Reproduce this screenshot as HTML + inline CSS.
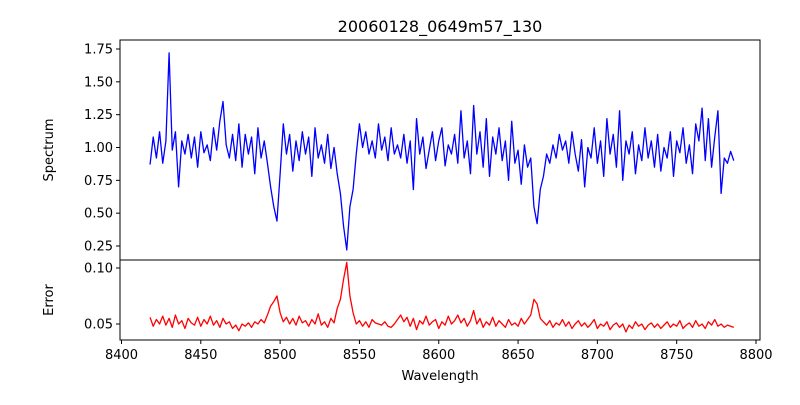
<!DOCTYPE html>
<html><head><meta charset="utf-8"><style>
body{margin:0;background:#fff;}
svg text{font-family:"DejaVu Sans","Liberation Sans",sans-serif;fill:#000;}
</style></head><body>
<svg id="chart" width="800" height="400" xmlns="http://www.w3.org/2000/svg">
<rect width="800" height="400" fill="#fff"/>
<text x="440" y="32" font-size="16" text-anchor="middle">20060128_0649m57_130</text>
<g id="g"></g>
<rect x="120" y="40" width="640" height="220" fill="none" stroke="#000" stroke-width="1"/>
<rect x="120" y="260" width="640" height="80" fill="none" stroke="#000" stroke-width="1"/>
<text x="53" y="150" font-size="13" text-anchor="middle" transform="rotate(-90 53 150)">Spectrum</text>
<text x="53" y="300" font-size="13" text-anchor="middle" transform="rotate(-90 53 300)">Error</text>
<text x="440" y="380" font-size="13" text-anchor="middle">Wavelength</text>
</svg>
<script>
const waveStart = 8418;
const waveStep = 2;
const flux = [
.87,1.08,.92,1.12,.88,1.05,1.72,.98,1.12,.70,
1.05,.95,1.10,.92,1.08,.85,1.12,.96,1.02,.90,
1.15,.98,1.20,1.35,1.02,.92,1.10,.90,1.18,.85,
1.10,.95,1.08,.80,1.15,.92,1.05,.88,.70,.55,
.44,.80,1.18,.95,1.10,.82,1.05,.90,1.12,.95,
1.08,.78,1.15,.92,1.02,.88,1.10,.84,1.00,.80,
.65,.40,.22,.55,.68,.95,1.18,1.00,1.12,.95,
1.05,.92,1.18,.98,1.08,.90,1.15,.95,1.02,.92,
1.10,.88,1.05,.68,1.22,.95,1.08,.84,.98,1.12,
.90,1.05,1.15,.86,1.02,.95,1.10,.88,1.28,.92,
1.05,.80,1.32,.95,1.12,.85,1.22,.78,1.08,.95,
1.15,.90,1.05,.75,1.20,.88,.98,.72,1.02,.85,
.92,.55,.42,.68,.78,.95,.88,1.02,.92,1.10,
.98,1.05,.88,1.12,.95,.82,1.06,.70,1.00,.92,
1.15,.88,1.05,.78,1.22,.95,1.10,.85,1.28,.75,
1.05,.95,1.12,.80,1.02,.90,1.15,.92,1.05,.85,
1.10,.82,1.00,.92,1.12,.78,1.05,.96,1.15,.88,
1.02,.80,1.18,1.05,1.30,.90,1.22,.85,1.08,1.28,
.65,.92,.88,.97,.90];
const err = [
.056,.048,.054,.050,.057,.049,.055,.047,.058,.050,
.053,.046,.055,.051,.049,.056,.048,.054,.050,.057,
.049,.053,.047,.055,.050,.052,.046,.049,.044,.050,
.048,.051,.047,.052,.050,.054,.051,.058,.066,.070,
.075,.060,.052,.056,.050,.055,.049,.057,.051,.053,
.048,.054,.050,.059,.049,.052,.047,.055,.051,.064,
.072,.090,.105,.075,.060,.050,.053,.048,.052,.047,
.054,.051,.050,.049,.052,.048,.047,.050,.054,.058,
.052,.056,.048,.055,.045,.053,.050,.057,.049,.052,
.054,.046,.052,.049,.057,.050,.053,.058,.051,.055,
.048,.053,.062,.050,.055,.047,.052,.049,.056,.048,
.053,.050,.047,.054,.049,.051,.048,.055,.050,.054,
.058,.072,.068,.055,.052,.049,.053,.047,.051,.049,
.054,.048,.052,.046,.050,.053,.048,.051,.047,.050,
.054,.046,.050,.048,.052,.045,.049,.051,.047,.050,
.043,.049,.046,.052,.048,.050,.045,.049,.051,.047,
.050,.046,.049,.052,.047,.050,.048,.053,.046,.049,
.051,.047,.053,.048,.050,.046,.052,.049,.054,.048,
.050,.047,.049,.048,.047];
const xTicks = [8400,8450,8500,8550,8600,8650,8700,8750,8800];
const fluxTicks = [0.25,0.50,0.75,1.00,1.25,1.50,1.75];
const errTicks = [0.05,0.10];

const NS = "http://www.w3.org/2000/svg";
const g = document.getElementById('g');
const xs = w => 121.5 + (w - 8400) * (756 - 121.5) / 400;
const yf = v => 49 + (1.75 - v) * (246 - 49) / 1.5;
const ye = v => 324 - (v - 0.05) * (324 - 268) / 0.05;
function mk(tag, attrs){const e=document.createElementNS(NS,tag);for(const k in attrs)e.setAttribute(k,attrs[k]);g.appendChild(e);return e;}

let d = flux.map((v,i)=>(i?'L':'M')+xs(waveStart+i*waveStep).toFixed(2)+','+yf(v).toFixed(2)).join('');
const p1 = mk('path',{d:d,fill:'none',stroke:'#0000ff','stroke-width':1.3,'stroke-linejoin':'round'});


d = err.map((v,i)=>(i?'L':'M')+xs(waveStart+i*waveStep).toFixed(2)+','+ye(v).toFixed(2)).join('');
const p2 = mk('path',{d:d,fill:'none',stroke:'#ff0000','stroke-width':1.3,'stroke-linejoin':'round'});



xTicks.forEach(t=>{
  const x = xs(t);
  const l = mk('line',{x1:x,x2:x,y1:340,y2:344,stroke:'#000'});
  
  
  const tx = mk('text',{x:x,y:359,'font-size':13,'text-anchor':'middle'});
  tx.textContent = t;
  
  
});
fluxTicks.forEach(t=>{
  const y = yf(t);
  const l = mk('line',{x1:116,x2:120,y1:y,y2:y,stroke:'#000'});
  
  
  const tx = mk('text',{x:113,y:y+4.5,'font-size':13,'text-anchor':'end'});
  tx.textContent = t.toFixed(2);
  
  
});
errTicks.forEach(t=>{
  const y = ye(t);
  const l = mk('line',{x1:116,x2:120,y1:y,y2:y,stroke:'#000'});
  
  
  const tx = mk('text',{x:113,y:y+4.5,'font-size':13,'text-anchor':'end'});
  tx.textContent = t.toFixed(2);
  
  
});
</script>
</body></html>
